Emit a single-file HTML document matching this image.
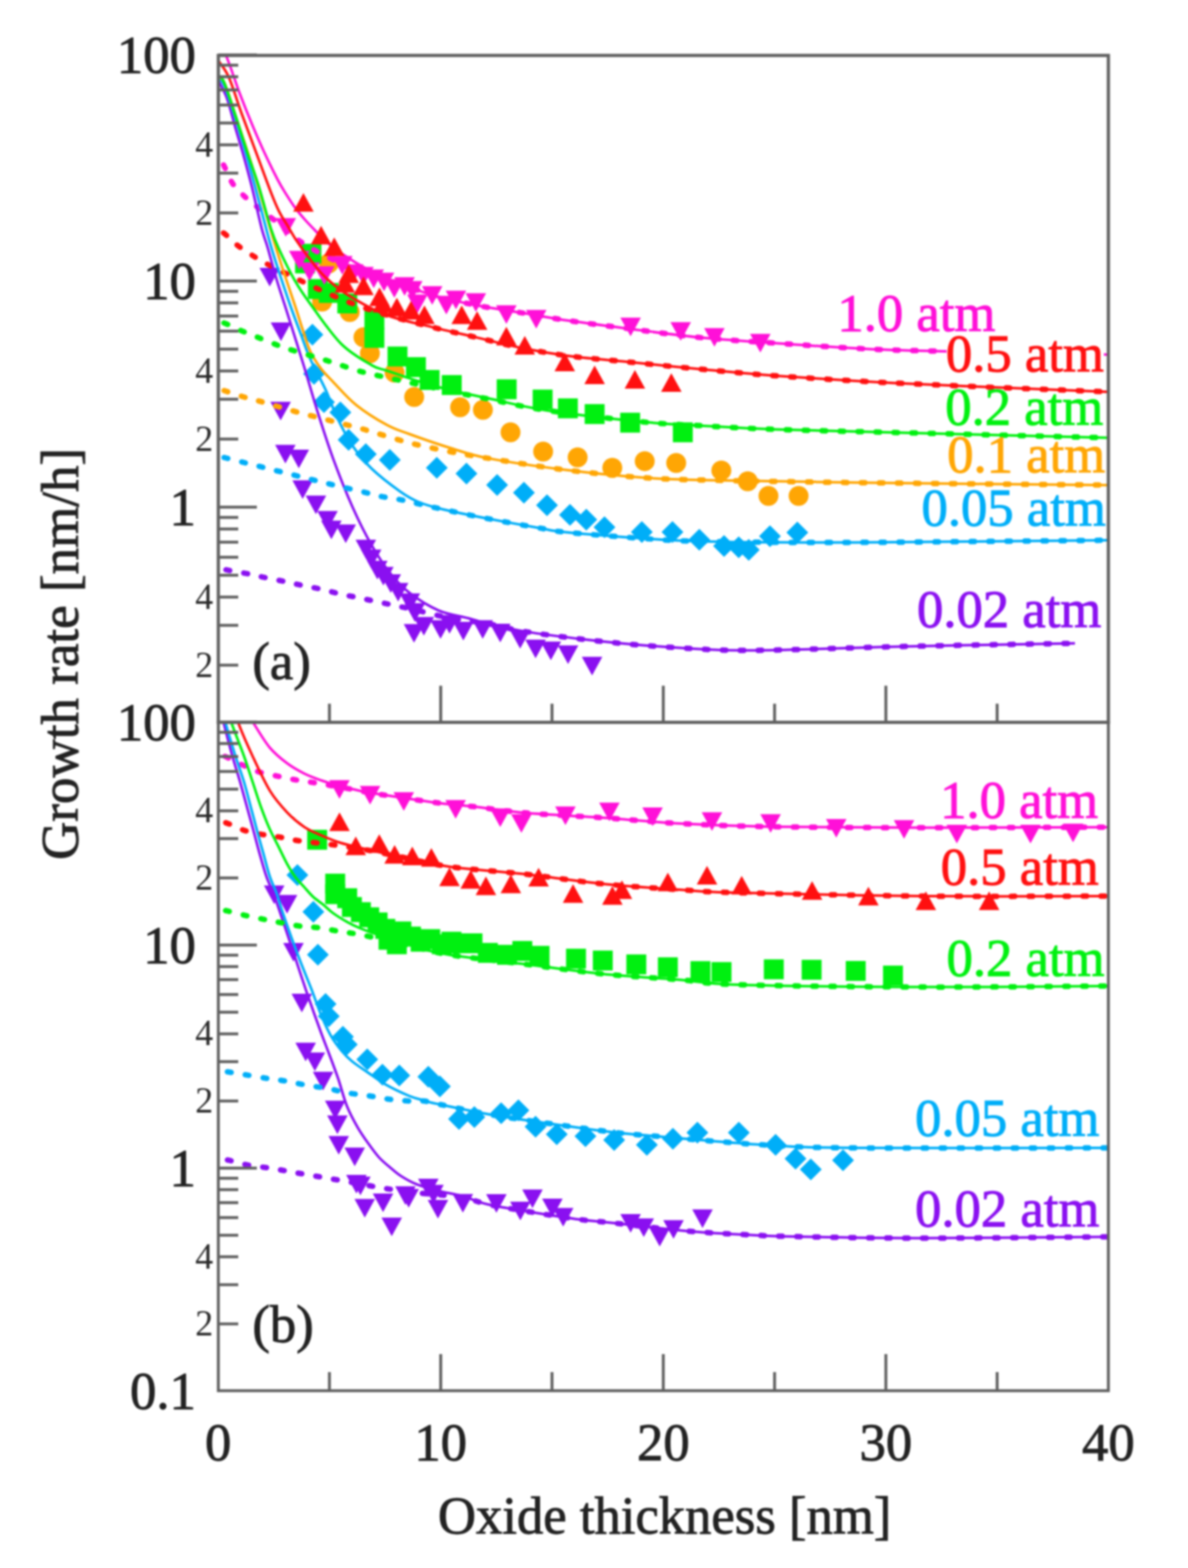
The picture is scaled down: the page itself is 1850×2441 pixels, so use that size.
<!DOCTYPE html>
<html><head><meta charset="utf-8"><title>Growth rate vs oxide thickness</title>
<style>html,body{margin:0;padding:0;background:#fff;width:1850px;height:2441px;overflow:hidden}svg{display:block;filter:blur(1.4px)}</style>
</head><body><svg width="1850" height="2441" viewBox="0 0 1850 2441"><rect width="100%" height="100%" fill="#fff"/><defs><clipPath id="ct"><rect x="340" y="86.3" width="1386" height="1038.2"/></clipPath><clipPath id="cb"><rect x="340" y="1124.5" width="1386" height="1040.5"/></clipPath></defs><g clip-path="url(#ct)"><path d="M404.0,417.0h32l-16,29z" fill="#8a10f0"/><path d="M421.5,502.0h32l-16,29z" fill="#8a10f0"/><path d="M421.0,625.5h32l-16,29z" fill="#8a10f0"/><path d="M428.4,692.5h32l-16,29z" fill="#8a10f0"/><path d="M449.3,700.1h32l-16,29z" fill="#8a10f0"/><path d="M455.3,747.8h32l-16,29z" fill="#8a10f0"/><path d="M476.0,771.5h32l-16,29z" fill="#8a10f0"/><path d="M494.0,795.5h32l-16,29z" fill="#8a10f0"/><path d="M500.0,810.5h32l-16,29z" fill="#8a10f0"/><path d="M522.4,816.5h32l-16,29z" fill="#8a10f0"/><path d="M553.7,840.3h32l-16,29z" fill="#8a10f0"/><path d="M562.0,855.5h32l-16,29z" fill="#8a10f0"/><path d="M571.6,873.1h32l-16,29z" fill="#8a10f0"/><path d="M581.0,882.5h32l-16,29z" fill="#8a10f0"/><path d="M592.5,894.0h32l-16,29z" fill="#8a10f0"/><path d="M604.0,907.5h32l-16,29z" fill="#8a10f0"/><path d="M622.3,923.8h32l-16,29z" fill="#8a10f0"/><path d="M630.0,939.1h32l-16,29z" fill="#8a10f0"/><path d="M628.7,971.5h32l-16,29z" fill="#8a10f0"/><path d="M644.0,960.5h32l-16,29z" fill="#8a10f0"/><path d="M670.0,965.5h32l-16,29z" fill="#8a10f0"/><path d="M684.0,957.5h32l-16,29z" fill="#8a10f0"/><path d="M705.5,968.0h32l-16,29z" fill="#8a10f0"/><path d="M735.7,965.5h32l-16,29z" fill="#8a10f0"/><path d="M763.0,971.0h32l-16,29z" fill="#8a10f0"/><path d="M794.0,980.8h32l-16,29z" fill="#8a10f0"/><path d="M818.0,995.8h32l-16,29z" fill="#8a10f0"/><path d="M841.8,998.7h32l-16,29z" fill="#8a10f0"/><path d="M868.6,1004.7h32l-16,29z" fill="#8a10f0"/><path d="M906.0,1022.6h32l-16,29z" fill="#8a10f0"/><path d="M486.5,504.0l17,17l-17,17l-17,-17z" fill="#00aef8"/><path d="M489.0,565.0l17,17l-17,17l-17,-17z" fill="#00aef8"/><path d="M504.5,609.0l17,17l-17,17l-17,-17z" fill="#00aef8"/><path d="M530.0,625.0l17,17l-17,17l-17,-17z" fill="#00aef8"/><path d="M542.9,667.7l17,17l-17,17l-17,-17z" fill="#00aef8"/><path d="M569.7,690.0l17,17l-17,17l-17,-17z" fill="#00aef8"/><path d="M607.0,699.0l17,17l-17,17l-17,-17z" fill="#00aef8"/><path d="M680.2,711.2l17,17l-17,17l-17,-17z" fill="#00aef8"/><path d="M726.4,720.2l17,17l-17,17l-17,-17z" fill="#00aef8"/><path d="M774.1,738.0l17,17l-17,17l-17,-17z" fill="#00aef8"/><path d="M815.9,750.0l17,17l-17,17l-17,-17z" fill="#00aef8"/><path d="M851.8,769.5l17,17l-17,17l-17,-17z" fill="#00aef8"/><path d="M887.6,784.4l17,17l-17,17l-17,-17z" fill="#00aef8"/><path d="M913.0,791.9l17,17l-17,17l-17,-17z" fill="#00aef8"/><path d="M941.3,803.8l17,17l-17,17l-17,-17z" fill="#00aef8"/><path d="M999.5,811.3l17,17l-17,17l-17,-17z" fill="#00aef8"/><path d="M1047.2,811.3l17,17l-17,17l-17,-17z" fill="#00aef8"/><path d="M1089.0,823.2l17,17l-17,17l-17,-17z" fill="#00aef8"/><path d="M1127.5,833.0l17,17l-17,17l-17,-17z" fill="#00aef8"/><path d="M1150.4,835.0l17,17l-17,17l-17,-17z" fill="#00aef8"/><path d="M1166.0,839.0l17,17l-17,17l-17,-17z" fill="#00aef8"/><path d="M1199.0,817.7l17,17l-17,17l-17,-17z" fill="#00aef8"/><path d="M1241.6,811.9l17,17l-17,17l-17,-17z" fill="#00aef8"/><circle cx="512.0" cy="410.0" r="15.5" fill="#ffa604"/><circle cx="501.6" cy="469.6" r="15.5" fill="#ffa604"/><circle cx="544.6" cy="485.7" r="15.5" fill="#ffa604"/><circle cx="566.0" cy="525.0" r="15.5" fill="#ffa604"/><circle cx="576.0" cy="550.0" r="15.5" fill="#ffa604"/><circle cx="614.5" cy="580.0" r="15.5" fill="#ffa604"/><circle cx="645.0" cy="618.0" r="15.5" fill="#ffa604"/><circle cx="716.5" cy="634.0" r="15.5" fill="#ffa604"/><circle cx="752.0" cy="638.0" r="15.5" fill="#ffa604"/><circle cx="795.0" cy="673.0" r="15.5" fill="#ffa604"/><circle cx="845.8" cy="703.0" r="15.5" fill="#ffa604"/><circle cx="899.5" cy="712.0" r="15.5" fill="#ffa604"/><circle cx="953.5" cy="728.3" r="15.5" fill="#ffa604"/><circle cx="1004.0" cy="717.9" r="15.5" fill="#ffa604"/><circle cx="1053.0" cy="720.8" r="15.5" fill="#ffa604"/><circle cx="1123.3" cy="732.4" r="15.5" fill="#ffa604"/><circle cx="1164.4" cy="749.2" r="15.5" fill="#ffa604"/><circle cx="1196.7" cy="772.0" r="15.5" fill="#ffa604"/><circle cx="1243.6" cy="772.0" r="15.5" fill="#ffa604"/><rect x="459.5" y="394.5" width="31" height="31" fill="#00f010"/><rect x="469.5" y="379.5" width="31" height="31" fill="#00f010"/><rect x="479.5" y="434.5" width="31" height="31" fill="#00f010"/><rect x="496.5" y="440.5" width="31" height="31" fill="#00f010"/><rect x="525.3" y="456.9" width="31" height="31" fill="#00f010"/><rect x="567.5" y="481.5" width="31" height="31" fill="#00f010"/><rect x="567.5" y="510.5" width="31" height="31" fill="#00f010"/><rect x="603.5" y="539.5" width="31" height="31" fill="#00f010"/><rect x="632.2" y="556.0" width="31" height="31" fill="#00f010"/><rect x="653.5" y="576.0" width="31" height="31" fill="#00f010"/><rect x="688.0" y="583.9" width="31" height="31" fill="#00f010"/><rect x="773.5" y="590.5" width="31" height="31" fill="#00f010"/><rect x="829.5" y="606.5" width="31" height="31" fill="#00f010"/><rect x="868.8" y="620.2" width="31" height="31" fill="#00f010"/><rect x="910.5" y="629.1" width="31" height="31" fill="#00f010"/><rect x="965.8" y="642.5" width="31" height="31" fill="#00f010"/><rect x="1047.8" y="657.5" width="31" height="31" fill="#00f010"/><path d="M429.0,339.5h32l-16,29z" fill="#ff10d8"/><path d="M450.0,390.5h32l-16,29z" fill="#ff10d8"/><path d="M466.0,408.5h32l-16,29z" fill="#ff10d8"/><path d="M489.0,414.5h32l-16,29z" fill="#ff10d8"/><path d="M517.0,398.5h32l-16,29z" fill="#ff10d8"/><path d="M534.0,411.5h32l-16,29z" fill="#ff10d8"/><path d="M550.0,415.5h32l-16,29z" fill="#ff10d8"/><path d="M566.0,419.5h32l-16,29z" fill="#ff10d8"/><path d="M582.0,424.5h32l-16,29z" fill="#ff10d8"/><path d="M598.0,434.5h32l-16,29z" fill="#ff10d8"/><path d="M614.0,431.5h32l-16,29z" fill="#ff10d8"/><path d="M626.0,437.5h32l-16,29z" fill="#ff10d8"/><path d="M634.0,458.5h32l-16,29z" fill="#ff10d8"/><path d="M657.0,445.5h32l-16,29z" fill="#ff10d8"/><path d="M679.0,460.5h32l-16,29z" fill="#ff10d8"/><path d="M694.0,452.5h32l-16,29z" fill="#ff10d8"/><path d="M725.0,456.5h32l-16,29z" fill="#ff10d8"/><path d="M772.5,475.3h32l-16,29z" fill="#ff10d8"/><path d="M819.0,482.5h32l-16,29z" fill="#ff10d8"/><path d="M966.0,494.5h32l-16,29z" fill="#ff10d8"/><path d="M1044.0,501.5h32l-16,29z" fill="#ff10d8"/><path d="M1096.5,510.8h32l-16,29z" fill="#ff10d8"/><path d="M1168.0,519.7h32l-16,29z" fill="#ff10d8"/><path d="M338.0,62.0 C340.6,66.7 347.5,76.0 353.4,90.0 C359.3,104.0 366.8,128.3 373.5,146.0 C380.2,163.7 387.2,181.0 393.5,196.0 C399.8,211.0 404.6,222.2 411.0,236.0 C417.4,249.8 426.2,267.8 432.0,279.0 C437.8,290.2 441.3,295.5 446.0,303.0 C450.7,310.5 455.3,317.7 460.0,324.0 C464.7,330.3 469.0,335.3 474.0,341.0 C479.0,346.7 484.0,351.8 490.0,358.0 C496.0,364.2 501.7,371.0 510.0,378.0 C518.3,385.0 530.0,393.3 540.0,400.0 C550.0,406.7 560.0,412.6 570.0,418.0 C580.0,423.4 583.1,425.7 600.0,432.5 C616.9,439.3 647.7,451.6 671.6,458.8 C695.5,466.0 719.3,470.7 743.2,475.5 C767.1,480.3 790.9,483.4 814.8,487.4 C838.7,491.4 860.6,495.5 886.4,499.3 C912.1,503.1 935.6,506.1 969.3,510.4 C1003.0,514.7 1048.9,521.3 1088.7,525.3 C1128.5,529.3 1164.5,531.2 1208.0,534.2 C1251.5,537.2 1305.5,541.1 1350.0,543.2 C1394.5,545.3 1412.7,545.5 1475.0,547.0 C1537.3,548.5 1682.5,551.2 1724.0,552.0" fill="none" stroke="#ff10d8" stroke-width="4.0" stroke-linejoin="round"/><path d="M340.0,242.0 C341.6,244.9 345.9,252.3 349.6,259.6 C353.4,267.0 357.4,278.5 362.5,286.1 C367.6,293.7 374.5,299.8 380.4,305.4 C386.2,311.0 389.3,313.2 397.6,319.8 C405.9,326.4 419.8,336.6 430.0,345.0 C440.2,353.4 447.3,361.7 459.0,370.0 C470.7,378.3 484.8,387.0 500.0,395.0 C515.2,403.0 533.3,411.8 550.0,418.0 C566.7,424.2 579.7,425.7 600.0,432.5 C620.3,439.3 647.7,451.6 671.6,458.8 C695.5,466.0 719.3,470.7 743.2,475.5 C767.1,480.3 790.9,483.4 814.8,487.4 C838.7,491.4 860.6,495.5 886.4,499.3 C912.1,503.1 935.6,506.1 969.3,510.4 C1003.0,514.7 1048.9,521.3 1088.7,525.3 C1128.5,529.3 1164.5,531.2 1208.0,534.2 C1251.5,537.2 1305.5,541.1 1350.0,543.2 C1394.5,545.3 1412.7,545.5 1475.0,547.0 C1537.3,548.5 1682.5,551.2 1724.0,552.0" fill="none" stroke="#ff10d8" stroke-width="8.5" stroke-dasharray="6 22" stroke-dashoffset="-17.0" stroke-linecap="round" stroke-linejoin="round"/><path d="M456.5,329.5h32l-16,-29z" fill="#ff1010"/><path d="M484.0,380.5h32l-16,-29z" fill="#ff1010"/><path d="M504.5,398.5h32l-16,-29z" fill="#ff1010"/><path d="M521.0,455.5h32l-16,-29z" fill="#ff1010"/><path d="M527.0,440.5h32l-16,-29z" fill="#ff1010"/><path d="M550.0,459.5h32l-16,-29z" fill="#ff1010"/><path d="M575.0,476.5h32l-16,-29z" fill="#ff1010"/><path d="M580.0,486.5h32l-16,-29z" fill="#ff1010"/><path d="M602.0,492.5h32l-16,-29z" fill="#ff1010"/><path d="M624.0,497.5h32l-16,-29z" fill="#ff1010"/><path d="M645.0,504.5h32l-16,-29z" fill="#ff1010"/><path d="M703.0,504.5h32l-16,-29z" fill="#ff1010"/><path d="M727.0,513.5h32l-16,-29z" fill="#ff1010"/><path d="M772.5,537.7h32l-16,-29z" fill="#ff1010"/><path d="M801.2,552.0h32l-16,-29z" fill="#ff1010"/><path d="M863.5,578.0h32l-16,-29z" fill="#ff1010"/><path d="M910.0,598.0h32l-16,-29z" fill="#ff1010"/><path d="M972.7,605.0h32l-16,-29z" fill="#ff1010"/><path d="M1029.4,609.9h32l-16,-29z" fill="#ff1010"/><path d="M338.0,92.0 C341.0,96.6 349.7,105.5 356.0,119.5 C362.3,133.5 368.9,156.6 376.0,176.0 C383.1,195.4 390.6,215.2 398.3,236.0 C406.1,256.8 416.4,285.3 422.5,301.0 C428.6,316.7 430.9,321.8 435.0,330.0 C439.1,338.2 442.5,342.5 447.0,350.0 C451.5,357.5 456.5,366.7 462.0,375.0 C467.5,383.3 472.8,390.8 480.0,400.0 C487.2,409.2 495.0,420.3 505.0,430.0 C515.0,439.7 524.2,448.0 540.0,458.0 C555.8,468.0 578.1,481.3 600.0,489.8 C621.9,498.3 647.7,502.9 671.6,508.9 C695.5,514.9 719.3,520.0 743.2,525.6 C767.1,531.2 790.9,537.5 814.8,542.3 C838.7,547.1 860.6,550.8 886.4,554.2 C912.1,557.6 935.6,559.2 969.3,562.6 C1003.0,566.0 1048.9,570.8 1088.7,574.5 C1128.5,578.2 1164.5,581.8 1208.0,585.0 C1251.5,588.2 1301.3,591.3 1350.0,594.0 C1398.7,596.7 1437.7,598.3 1500.0,601.0 C1562.3,603.7 1686.7,608.5 1724.0,610.0" fill="none" stroke="#ff1010" stroke-width="4.0" stroke-linejoin="round"/><path d="M340.0,358.0 C341.8,359.1 345.9,360.8 350.7,364.6 C355.5,368.4 362.1,375.8 368.6,381.0 C375.2,386.2 382.8,391.0 390.0,395.6 C397.2,400.2 401.6,403.3 411.6,408.7 C421.6,414.1 435.3,420.8 450.0,428.0 C464.7,435.2 483.3,444.5 500.0,452.0 C516.7,459.5 533.3,466.7 550.0,473.0 C566.7,479.3 579.7,483.8 600.0,489.8 C620.3,495.8 647.7,502.9 671.6,508.9 C695.5,514.9 719.3,520.0 743.2,525.6 C767.1,531.2 790.9,537.5 814.8,542.3 C838.7,547.1 860.6,550.8 886.4,554.2 C912.1,557.6 935.6,559.2 969.3,562.6 C1003.0,566.0 1048.9,570.8 1088.7,574.5 C1128.5,578.2 1164.5,581.8 1208.0,585.0 C1251.5,588.2 1301.3,591.3 1350.0,594.0 C1398.7,596.7 1437.7,598.3 1500.0,601.0 C1562.3,603.7 1686.7,608.5 1724.0,610.0" fill="none" stroke="#ff1010" stroke-width="8.5" stroke-dasharray="6 22" stroke-dashoffset="-9.6" stroke-linecap="round" stroke-linejoin="round"/><path d="M338.0,122.0 C340.6,127.2 348.6,140.0 353.4,153.0 C358.2,166.0 362.8,186.2 366.8,200.0 C370.8,213.8 373.3,221.0 377.5,236.0 C381.7,251.0 387.0,270.0 392.0,290.0 C397.0,310.0 403.5,340.3 407.6,356.0 C411.7,371.7 412.5,370.7 416.4,384.0 C420.3,397.3 425.8,418.8 431.0,436.0 C436.2,453.2 440.3,464.9 447.4,487.4 C454.5,509.9 465.7,545.1 473.6,571.0 C481.5,596.9 487.4,618.6 495.0,642.5 C502.6,666.4 510.0,690.2 519.0,714.6 C528.0,739.0 538.8,766.6 548.8,789.0 C558.8,811.4 568.8,831.4 578.7,848.8 C588.7,866.2 598.6,881.2 608.5,893.6 C618.4,906.0 625.9,914.0 638.3,923.4 C650.7,932.8 667.8,943.8 683.0,950.3 C698.2,956.8 716.7,959.0 729.5,962.5 C742.3,966.0 745.1,967.5 760.0,971.0 C774.9,974.5 794.2,979.4 819.0,983.4 C843.8,987.4 878.7,991.8 908.5,995.3 C938.3,998.8 966.1,1001.7 998.0,1004.3 C1029.9,1006.9 1073.0,1009.6 1100.0,1011.0 C1127.0,1012.4 1135.0,1012.5 1160.0,1012.5 C1185.0,1012.5 1214.8,1011.9 1250.0,1011.0 C1285.2,1010.1 1329.8,1008.4 1371.5,1007.3 C1413.2,1006.2 1449.6,1005.5 1500.0,1004.5 C1550.4,1003.5 1645.0,1002.0 1674.0,1001.5" fill="none" stroke="#8a10f0" stroke-width="4.0" stroke-linejoin="round"/><path d="M340.0,884.0 C342.5,884.6 347.1,886.0 355.0,887.6 C362.9,889.2 377.8,891.6 387.7,893.6 C397.6,895.6 405.2,897.5 414.6,899.5 C424.1,901.5 434.9,903.5 444.4,905.5 C453.8,907.5 461.9,909.5 471.3,911.5 C480.7,913.5 491.1,915.1 501.0,917.4 C510.9,919.6 521.0,922.7 531.0,925.0 C541.0,927.3 551.4,929.0 560.8,931.0 C570.2,933.0 574.4,934.0 587.6,936.8 C600.8,939.6 621.3,943.8 640.0,948.0 C658.7,952.2 680.0,958.2 700.0,962.0 C720.0,965.8 740.2,967.4 760.0,971.0 C779.8,974.6 794.2,979.4 819.0,983.4 C843.8,987.4 878.7,991.8 908.5,995.3 C938.3,998.8 966.1,1001.7 998.0,1004.3 C1029.9,1006.9 1073.0,1009.6 1100.0,1011.0 C1127.0,1012.4 1135.0,1012.5 1160.0,1012.5 C1185.0,1012.5 1214.8,1011.9 1250.0,1011.0 C1285.2,1010.1 1329.8,1008.4 1371.5,1007.3 C1413.2,1006.2 1449.6,1005.5 1500.0,1004.5 C1550.4,1003.5 1645.0,1002.0 1674.0,1001.5" fill="none" stroke="#8a10f0" stroke-width="8.5" stroke-dasharray="6 22" stroke-dashoffset="-12.4" stroke-linecap="round" stroke-linejoin="round"/><path d="M338.0,120.0 C340.0,122.5 345.0,123.3 350.0,135.0 C355.0,146.7 362.0,170.8 368.0,190.0 C374.0,209.2 380.0,229.0 386.0,250.0 C392.0,271.0 398.2,294.3 404.0,316.0 C409.8,337.7 415.7,361.3 421.0,380.0 C426.3,398.7 430.8,412.1 436.0,428.0 C441.2,443.9 446.7,460.3 452.0,475.5 C457.3,490.7 462.8,505.1 468.0,519.0 C473.2,532.9 476.7,544.4 483.2,559.0 C489.7,573.6 500.0,591.5 507.0,606.7 C514.0,621.9 518.0,635.5 525.0,650.0 C532.0,664.5 539.8,680.5 548.8,693.7 C557.8,707.0 566.3,717.6 578.7,729.5 C591.1,741.4 611.0,756.5 623.4,765.3 C635.8,774.0 641.9,777.4 653.0,782.0 C664.1,786.6 672.5,788.8 690.0,793.0 C707.5,797.2 732.7,802.2 757.7,807.0 C782.7,811.8 819.8,818.5 840.0,822.0 C860.2,825.5 852.4,825.6 878.7,828.3 C905.0,831.0 961.1,835.5 998.0,838.0 C1034.9,840.5 1044.2,841.9 1100.0,843.0 C1155.8,844.1 1228.6,844.7 1332.7,844.4 C1436.8,844.1 1659.2,841.6 1724.5,841.0" fill="none" stroke="#00aef8" stroke-width="4.0" stroke-linejoin="round"/><path d="M340.0,710.0 C342.0,710.5 345.0,711.2 352.0,713.0 C359.0,714.8 371.9,718.0 381.8,720.5 C391.7,723.0 401.7,725.5 411.6,728.0 C421.5,730.5 431.4,733.0 441.4,735.5 C451.3,738.0 461.4,740.5 471.3,743.0 C481.2,745.5 491.1,747.9 501.0,750.4 C510.9,752.9 520.5,755.3 531.0,757.8 C541.5,760.3 553.3,762.8 563.7,765.3 C574.1,767.8 583.7,770.7 593.6,772.8 C603.5,774.9 613.5,775.8 623.4,777.8 C633.3,779.8 642.1,782.2 653.2,784.7 C664.3,787.2 672.6,789.3 690.0,793.0 C707.4,796.7 732.7,802.2 757.7,807.0 C782.7,811.8 819.8,818.5 840.0,822.0 C860.2,825.5 852.4,825.6 878.7,828.3 C905.0,831.0 961.1,835.5 998.0,838.0 C1034.9,840.5 1044.2,841.9 1100.0,843.0 C1155.8,844.1 1228.6,844.7 1332.7,844.4 C1436.8,844.1 1659.2,841.6 1724.5,841.0" fill="none" stroke="#00aef8" stroke-width="8.5" stroke-dasharray="6 22" stroke-dashoffset="-9.4" stroke-linecap="round" stroke-linejoin="round"/><path d="M338.0,118.0 C340.0,120.0 344.7,118.0 350.0,130.0 C355.3,142.0 363.3,170.0 370.0,190.0 C376.7,210.0 383.3,228.7 390.0,250.0 C396.7,271.3 403.7,296.3 410.0,318.0 C416.3,339.7 422.3,361.3 428.0,380.0 C433.7,398.7 438.8,414.1 444.0,430.0 C449.2,445.9 454.6,461.3 459.3,475.5 C464.0,489.7 468.0,503.1 472.0,515.0 C476.0,526.9 478.5,537.2 483.2,547.0 C487.9,556.8 494.0,566.0 500.0,574.0 C506.0,582.0 509.9,585.4 519.0,594.8 C528.1,604.2 540.9,619.5 554.8,630.6 C568.7,641.7 588.6,654.0 602.5,661.6 C616.4,669.2 622.0,670.1 638.3,676.0 C654.5,681.9 679.7,690.8 700.0,697.0 C720.3,703.2 730.2,707.7 760.0,713.4 C789.8,719.1 839.0,726.3 878.7,731.3 C918.4,736.3 961.1,740.6 998.0,743.3 C1034.9,746.0 1044.2,746.1 1100.0,747.4 C1155.8,748.7 1228.6,750.0 1332.7,751.3 C1436.8,752.6 1659.2,754.6 1724.5,755.2" fill="none" stroke="#ffa604" stroke-width="4.0" stroke-linejoin="round"/><path d="M340.0,605.0 C342.0,605.7 345.7,606.9 352.0,609.0 C358.3,611.1 369.3,614.9 378.0,617.5 C386.7,620.1 389.6,620.4 404.4,624.6 C419.1,628.8 441.4,635.7 466.5,642.5 C491.6,649.3 535.3,660.0 554.8,665.2 C574.3,670.4 569.2,669.4 583.4,673.5 C597.6,677.6 620.6,685.1 640.0,690.0 C659.4,694.9 680.0,699.1 700.0,703.0 C720.0,706.9 730.2,708.7 760.0,713.4 C789.8,718.1 839.0,726.3 878.7,731.3 C918.4,736.3 961.1,740.6 998.0,743.3 C1034.9,746.0 1044.2,746.1 1100.0,747.4 C1155.8,748.7 1228.6,750.0 1332.7,751.3 C1436.8,752.6 1659.2,754.6 1724.5,755.2" fill="none" stroke="#ffa604" stroke-width="8.5" stroke-dasharray="6 22" stroke-dashoffset="-9.6" stroke-linecap="round" stroke-linejoin="round"/><path d="M338.0,118.0 C339.7,119.3 343.2,115.7 348.0,126.0 C352.8,136.3 360.7,161.7 366.8,180.0 C372.9,198.3 378.7,217.7 384.7,236.0 C390.7,254.3 396.8,270.0 403.0,290.0 C409.2,310.0 416.5,339.3 421.9,356.0 C427.3,372.7 429.3,376.5 435.5,390.0 C441.7,403.5 451.4,423.2 459.3,437.0 C467.2,450.8 471.2,456.7 483.2,473.0 C495.1,489.3 515.1,519.1 531.0,535.0 C546.9,550.9 566.8,561.5 578.7,568.5 C590.6,575.5 590.6,572.9 602.5,577.0 C614.4,581.1 633.8,588.0 650.0,593.0 C666.2,598.0 681.7,602.5 700.0,607.0 C718.3,611.5 735.0,614.7 760.0,620.0 C785.0,625.3 810.2,632.6 850.0,638.7 C889.8,644.8 959.2,652.6 999.0,656.6 C1038.8,660.6 1053.9,660.5 1088.7,662.5 C1123.5,664.5 1154.5,666.6 1208.0,668.5 C1261.5,670.4 1323.9,671.5 1410.0,673.7 C1496.1,675.9 1672.1,680.2 1724.5,681.5" fill="none" stroke="#00f010" stroke-width="4.0" stroke-linejoin="round"/><path d="M340.0,500.0 C342.0,500.7 346.0,501.5 352.0,504.0 C358.0,506.5 367.9,511.4 375.8,514.8 C383.8,518.2 391.8,521.2 399.7,524.4 C407.6,527.6 415.1,530.8 423.5,534.0 C431.9,537.2 436.3,539.2 449.8,543.5 C463.3,547.8 491.2,555.8 504.7,560.0 C518.2,564.2 522.3,565.7 531.0,568.5 C539.7,571.3 547.9,574.4 557.0,577.0 C566.1,579.6 572.0,580.8 585.8,584.0 C599.6,587.2 621.0,591.8 640.0,596.0 C659.0,600.2 680.0,604.8 700.0,609.0 C720.0,613.2 735.0,616.0 760.0,621.0 C785.0,626.0 810.2,632.8 850.0,638.7 C889.8,644.6 959.2,652.6 999.0,656.6 C1038.8,660.6 1053.9,660.5 1088.7,662.5 C1123.5,664.5 1154.5,666.6 1208.0,668.5 C1261.5,670.4 1323.9,671.5 1410.0,673.7 C1496.1,675.9 1672.1,680.2 1724.5,681.5" fill="none" stroke="#00f010" stroke-width="8.5" stroke-dasharray="6 22" stroke-dashoffset="-9.6" stroke-linecap="round" stroke-linejoin="round"/></g><g clip-path="url(#cb)"><path d="M411.0,1378.5h32l-16,29z" fill="#8a10f0"/><path d="M431.0,1393.2h32l-16,29z" fill="#8a10f0"/><path d="M441.0,1468.1h32l-16,29z" fill="#8a10f0"/><path d="M454.0,1546.9h32l-16,29z" fill="#8a10f0"/><path d="M460.0,1623.3h32l-16,29z" fill="#8a10f0"/><path d="M474.3,1638.5h32l-16,29z" fill="#8a10f0"/><path d="M487.2,1668.5h32l-16,29z" fill="#8a10f0"/><path d="M506.0,1713.5h32l-16,29z" fill="#8a10f0"/><path d="M509.4,1736.5h32l-16,29z" fill="#8a10f0"/><path d="M511.5,1768.5h32l-16,29z" fill="#8a10f0"/><path d="M536.4,1786.5h32l-16,29z" fill="#8a10f0"/><path d="M539.0,1828.9h32l-16,29z" fill="#8a10f0"/><path d="M545.2,1831.7h32l-16,29z" fill="#8a10f0"/><path d="M552.0,1866.5h32l-16,29z" fill="#8a10f0"/><path d="M580.5,1858.0h32l-16,29z" fill="#8a10f0"/><path d="M594.0,1895.5h32l-16,29z" fill="#8a10f0"/><path d="M615.3,1846.8h32l-16,29z" fill="#8a10f0"/><path d="M620.4,1851.0h32l-16,29z" fill="#8a10f0"/><path d="M651.0,1834.9h32l-16,29z" fill="#8a10f0"/><path d="M659.0,1844.5h32l-16,29z" fill="#8a10f0"/><path d="M666.0,1868.0h32l-16,29z" fill="#8a10f0"/><path d="M704.8,1858.7h32l-16,29z" fill="#8a10f0"/><path d="M757.0,1858.9h32l-16,29z" fill="#8a10f0"/><path d="M794.3,1870.7h32l-16,29z" fill="#8a10f0"/><path d="M813.2,1851.8h32l-16,29z" fill="#8a10f0"/><path d="M844.2,1866.1h32l-16,29z" fill="#8a10f0"/><path d="M861.0,1880.5h32l-16,29z" fill="#8a10f0"/><path d="M966.0,1889.9h32l-16,29z" fill="#8a10f0"/><path d="M986.5,1896.7h32l-16,29z" fill="#8a10f0"/><path d="M1011.3,1911.5h32l-16,29z" fill="#8a10f0"/><path d="M1032.8,1899.5h32l-16,29z" fill="#8a10f0"/><path d="M1078.0,1882.8h32l-16,29z" fill="#8a10f0"/><path d="M463.1,1345.2l17,17l-17,17l-17,-17z" fill="#00aef8"/><path d="M488.0,1402.4l17,17l-17,17l-17,-17z" fill="#00aef8"/><path d="M495.0,1469.2l17,17l-17,17l-17,-17z" fill="#00aef8"/><path d="M507.0,1546.0l17,17l-17,17l-17,-17z" fill="#00aef8"/><path d="M512.0,1565.0l17,17l-17,17l-17,-17z" fill="#00aef8"/><path d="M534.0,1597.0l17,17l-17,17l-17,-17z" fill="#00aef8"/><path d="M540.0,1609.0l17,17l-17,17l-17,-17z" fill="#00aef8"/><path d="M571.9,1632.3l17,17l-17,17l-17,-17z" fill="#00aef8"/><path d="M595.5,1655.9l17,17l-17,17l-17,-17z" fill="#00aef8"/><path d="M621.8,1657.2l17,17l-17,17l-17,-17z" fill="#00aef8"/><path d="M667.0,1659.3l17,17l-17,17l-17,-17z" fill="#00aef8"/><path d="M685.0,1674.3l17,17l-17,17l-17,-17z" fill="#00aef8"/><path d="M714.8,1725.0l17,17l-17,17l-17,-17z" fill="#00aef8"/><path d="M738.7,1722.0l17,17l-17,17l-17,-17z" fill="#00aef8"/><path d="M780.4,1716.0l17,17l-17,17l-17,-17z" fill="#00aef8"/><path d="M807.3,1711.6l17,17l-17,17l-17,-17z" fill="#00aef8"/><path d="M834.0,1737.0l17,17l-17,17l-17,-17z" fill="#00aef8"/><path d="M867.0,1748.8l17,17l-17,17l-17,-17z" fill="#00aef8"/><path d="M911.7,1751.8l17,17l-17,17l-17,-17z" fill="#00aef8"/><path d="M956.4,1757.8l17,17l-17,17l-17,-17z" fill="#00aef8"/><path d="M1007.3,1765.3l17,17l-17,17l-17,-17z" fill="#00aef8"/><path d="M1047.9,1755.7l17,17l-17,17l-17,-17z" fill="#00aef8"/><path d="M1086.0,1746.2l17,17l-17,17l-17,-17z" fill="#00aef8"/><path d="M1150.5,1746.2l17,17l-17,17l-17,-17z" fill="#00aef8"/><path d="M1207.8,1765.3l17,17l-17,17l-17,-17z" fill="#00aef8"/><path d="M1238.8,1786.8l17,17l-17,17l-17,-17z" fill="#00aef8"/><path d="M1262.6,1803.5l17,17l-17,17l-17,-17z" fill="#00aef8"/><path d="M1312.8,1789.2l17,17l-17,17l-17,-17z" fill="#00aef8"/><rect x="478.4" y="1291.8" width="31" height="31" fill="#00f010"/><rect x="506.5" y="1360.1" width="31" height="31" fill="#00f010"/><rect x="506.5" y="1376.5" width="31" height="31" fill="#00f010"/><rect x="525.2" y="1382.8" width="31" height="31" fill="#00f010"/><rect x="532.5" y="1396.5" width="31" height="31" fill="#00f010"/><rect x="546.5" y="1404.5" width="31" height="31" fill="#00f010"/><rect x="559.5" y="1412.5" width="31" height="31" fill="#00f010"/><rect x="572.5" y="1420.5" width="31" height="31" fill="#00f010"/><rect x="584.5" y="1430.5" width="31" height="31" fill="#00f010"/><rect x="589.5" y="1447.5" width="31" height="31" fill="#00f010"/><rect x="602.5" y="1454.5" width="31" height="31" fill="#00f010"/><rect x="609.5" y="1434.5" width="31" height="31" fill="#00f010"/><rect x="624.5" y="1442.5" width="31" height="31" fill="#00f010"/><rect x="639.5" y="1450.5" width="31" height="31" fill="#00f010"/><rect x="654.5" y="1446.5" width="31" height="31" fill="#00f010"/><rect x="672.5" y="1454.5" width="31" height="31" fill="#00f010"/><rect x="687.5" y="1450.5" width="31" height="31" fill="#00f010"/><rect x="702.5" y="1453.0" width="31" height="31" fill="#00f010"/><rect x="720.3" y="1453.0" width="31" height="31" fill="#00f010"/><rect x="744.2" y="1467.9" width="31" height="31" fill="#00f010"/><rect x="774.0" y="1470.9" width="31" height="31" fill="#00f010"/><rect x="797.9" y="1464.9" width="31" height="31" fill="#00f010"/><rect x="824.7" y="1472.5" width="31" height="31" fill="#00f010"/><rect x="881.5" y="1476.9" width="31" height="31" fill="#00f010"/><rect x="923.2" y="1479.8" width="31" height="31" fill="#00f010"/><rect x="975.4" y="1485.8" width="31" height="31" fill="#00f010"/><rect x="1024.5" y="1490.3" width="31" height="31" fill="#00f010"/><rect x="1075.3" y="1496.3" width="31" height="31" fill="#00f010"/><rect x="1108.1" y="1497.7" width="31" height="31" fill="#00f010"/><rect x="1189.5" y="1493.5" width="31" height="31" fill="#00f010"/><rect x="1248.4" y="1494.2" width="31" height="31" fill="#00f010"/><rect x="1317.1" y="1496.0" width="31" height="31" fill="#00f010"/><rect x="1375.1" y="1503.2" width="31" height="31" fill="#00f010"/><path d="M512.6,1214.5h32l-16,29z" fill="#ff10d8"/><path d="M560.3,1223.6h32l-16,29z" fill="#ff10d8"/><path d="M612.8,1233.2h32l-16,29z" fill="#ff10d8"/><path d="M693.5,1245.5h32l-16,29z" fill="#ff10d8"/><path d="M763.0,1258.5h32l-16,29z" fill="#ff10d8"/><path d="M795.9,1267.5h32l-16,29z" fill="#ff10d8"/><path d="M864.5,1255.5h32l-16,29z" fill="#ff10d8"/><path d="M933.0,1249.5h32l-16,29z" fill="#ff10d8"/><path d="M1000.2,1257.1h32l-16,29z" fill="#ff10d8"/><path d="M1092.7,1264.5h32l-16,29z" fill="#ff10d8"/><path d="M1184.0,1267.5h32l-16,29z" fill="#ff10d8"/><path d="M1286.2,1275.0h32l-16,29z" fill="#ff10d8"/><path d="M1391.8,1276.8h32l-16,29z" fill="#ff10d8"/><path d="M1474.0,1284.0h32l-16,29z" fill="#ff10d8"/><path d="M1588.7,1284.0h32l-16,29z" fill="#ff10d8"/><path d="M1655.0,1282.2h32l-16,29z" fill="#ff10d8"/><path d="M386.0,1110.0 C387.7,1113.0 390.5,1119.0 396.2,1128.0 C401.9,1137.0 411.8,1154.1 420.3,1164.1 C428.8,1174.1 438.1,1181.5 447.0,1188.2 C455.9,1194.9 464.9,1199.8 473.8,1204.3 C482.7,1208.8 491.7,1211.9 500.6,1215.0 C509.5,1218.1 517.4,1220.3 527.3,1223.0 C537.2,1225.7 551.4,1229.1 560.0,1231.0 C568.6,1232.9 559.7,1231.6 578.7,1234.6 C597.7,1237.6 647.1,1245.3 674.0,1248.9 C700.9,1252.5 715.8,1253.2 740.0,1256.0 C764.2,1258.8 786.2,1262.8 819.3,1265.6 C852.4,1268.4 898.9,1270.3 938.7,1273.0 C978.5,1275.7 1014.5,1279.7 1058.0,1282.0 C1101.5,1284.3 1136.9,1285.9 1200.0,1287.0 C1263.1,1288.1 1349.1,1288.4 1436.4,1288.5 C1523.7,1288.6 1676.1,1287.8 1724.0,1287.7" fill="none" stroke="#ff10d8" stroke-width="4.0" stroke-linejoin="round"/><path d="M340.0,1173.0 C342.2,1174.0 346.7,1175.7 353.4,1178.9 C360.1,1182.1 371.8,1188.2 380.0,1192.0 C388.2,1195.8 394.2,1198.9 402.9,1201.6 C411.6,1204.3 422.5,1206.2 432.3,1208.3 C442.1,1210.4 451.8,1212.5 461.8,1214.3 C471.9,1216.1 481.7,1217.2 492.6,1219.0 C503.5,1220.8 516.1,1223.0 527.3,1225.0 C538.5,1227.0 551.4,1229.4 560.0,1231.0 C568.6,1232.6 559.7,1231.6 578.7,1234.6 C597.7,1237.6 647.1,1245.3 674.0,1248.9 C700.9,1252.5 715.8,1253.2 740.0,1256.0 C764.2,1258.8 786.2,1262.8 819.3,1265.6 C852.4,1268.4 898.9,1270.3 938.7,1273.0 C978.5,1275.7 1014.5,1279.7 1058.0,1282.0 C1101.5,1284.3 1136.9,1285.9 1200.0,1287.0 C1263.1,1288.1 1349.1,1288.4 1436.4,1288.5 C1523.7,1288.6 1676.1,1287.8 1724.0,1287.7" fill="none" stroke="#ff10d8" stroke-width="8.5" stroke-dasharray="6 22" stroke-dashoffset="-11.5" stroke-linecap="round" stroke-linejoin="round"/><path d="M512.7,1293.7h32l-16,-29z" fill="#ff1010"/><path d="M538.0,1331.2h32l-16,-29z" fill="#ff1010"/><path d="M574.6,1327.8h32l-16,-29z" fill="#ff1010"/><path d="M598.5,1344.5h32l-16,-29z" fill="#ff1010"/><path d="M626.0,1346.9h32l-16,-29z" fill="#ff1010"/><path d="M655.7,1349.3h32l-16,-29z" fill="#ff1010"/><path d="M684.0,1379.5h32l-16,-29z" fill="#ff1010"/><path d="M717.0,1383.5h32l-16,-29z" fill="#ff1010"/><path d="M740.7,1393.5h32l-16,-29z" fill="#ff1010"/><path d="M779.5,1390.5h32l-16,-29z" fill="#ff1010"/><path d="M822.7,1380.1h32l-16,-29z" fill="#ff1010"/><path d="M876.4,1405.5h32l-16,-29z" fill="#ff1010"/><path d="M937.6,1408.5h32l-16,-29z" fill="#ff1010"/><path d="M952.5,1399.5h32l-16,-29z" fill="#ff1010"/><path d="M1024.0,1387.5h32l-16,-29z" fill="#ff1010"/><path d="M1085.0,1377.1h32l-16,-29z" fill="#ff1010"/><path d="M1139.0,1392.5h32l-16,-29z" fill="#ff1010"/><path d="M1248.6,1400.7h32l-16,-29z" fill="#ff1010"/><path d="M1336.3,1409.5h32l-16,-29z" fill="#ff1010"/><path d="M1425.8,1416.8h32l-16,-29z" fill="#ff1010"/><path d="M1524.3,1416.8h32l-16,-29z" fill="#ff1010"/><path d="M368.0,1110.0 C368.7,1113.0 367.9,1116.8 372.1,1128.0 C376.4,1139.2 385.5,1160.3 393.5,1177.5 C401.5,1194.7 411.4,1216.5 420.3,1231.0 C429.2,1245.5 438.1,1255.1 447.0,1264.5 C455.9,1273.9 464.9,1281.3 473.8,1287.3 C482.7,1293.3 491.2,1296.5 500.6,1300.6 C510.0,1304.7 518.4,1308.4 530.0,1312.0 C541.6,1315.6 555.0,1318.5 570.0,1322.0 C585.0,1325.5 598.3,1328.5 620.0,1333.0 C641.7,1337.5 666.8,1344.5 700.0,1349.2 C733.2,1353.9 779.5,1356.5 819.3,1361.0 C859.1,1365.5 898.9,1372.0 938.7,1376.0 C978.5,1380.0 1022.8,1382.7 1058.0,1385.0 C1093.2,1387.3 1086.9,1388.1 1150.0,1389.8 C1213.1,1391.5 1340.7,1394.1 1436.4,1395.0 C1532.1,1395.9 1676.1,1395.0 1724.0,1395.0" fill="none" stroke="#ff1010" stroke-width="4.0" stroke-linejoin="round"/><path d="M340.0,1278.0 C342.4,1278.7 348.0,1279.5 354.7,1281.9 C361.4,1284.3 371.0,1289.7 380.1,1292.6 C389.2,1295.5 400.2,1297.5 409.6,1299.3 C419.0,1301.1 427.2,1301.7 436.3,1303.3 C445.4,1304.9 449.7,1306.6 464.4,1308.7 C479.1,1310.8 507.1,1313.6 524.7,1316.0 C542.3,1318.4 554.1,1320.2 570.0,1323.0 C585.9,1325.8 598.3,1328.6 620.0,1333.0 C641.7,1337.4 666.8,1344.5 700.0,1349.2 C733.2,1353.9 779.5,1356.5 819.3,1361.0 C859.1,1365.5 898.9,1372.0 938.7,1376.0 C978.5,1380.0 1022.8,1382.7 1058.0,1385.0 C1093.2,1387.3 1086.9,1388.1 1150.0,1389.8 C1213.1,1391.5 1340.7,1394.1 1436.4,1395.0 C1532.1,1395.9 1676.1,1395.0 1724.0,1395.0" fill="none" stroke="#ff1010" stroke-width="8.5" stroke-dasharray="6 22" stroke-dashoffset="-12.2" stroke-linecap="round" stroke-linejoin="round"/><path d="M346.0,1110.0 C346.5,1113.0 346.3,1116.8 349.0,1128.0 C351.7,1139.2 357.8,1162.5 362.0,1177.5 C366.2,1192.5 370.2,1204.3 374.0,1217.7 C377.8,1231.1 381.3,1244.4 385.0,1257.8 C388.7,1271.2 392.7,1285.7 396.0,1298.0 C399.3,1310.3 401.8,1320.2 405.0,1331.4 C408.2,1342.6 411.5,1354.9 415.0,1364.9 C418.5,1374.9 422.5,1382.4 426.0,1391.6 C429.5,1400.8 431.2,1406.0 436.0,1420.0 C440.8,1434.0 447.5,1454.3 454.6,1475.5 C461.7,1496.7 470.8,1525.0 478.4,1547.0 C486.0,1569.0 494.2,1591.9 500.0,1607.7 C505.8,1623.5 508.5,1630.0 513.0,1642.0 C517.5,1654.0 522.4,1666.7 526.9,1680.0 C531.4,1693.3 535.2,1709.3 540.2,1721.8 C545.2,1734.3 551.4,1745.5 557.0,1755.2 C562.6,1764.9 568.0,1772.4 573.6,1780.2 C579.2,1788.0 584.8,1795.9 590.4,1802.0 C596.0,1808.1 601.4,1812.3 607.0,1817.0 C612.6,1821.7 616.8,1826.0 623.8,1830.4 C630.8,1834.9 639.1,1839.8 648.8,1843.7 C658.5,1847.6 670.3,1850.7 682.2,1853.7 C694.1,1856.8 707.0,1858.5 720.0,1862.0 C733.0,1865.5 741.3,1870.7 760.0,1875.0 C778.7,1879.3 808.2,1883.8 832.0,1887.7 C855.8,1891.6 883.2,1895.9 903.0,1898.5 C922.8,1901.1 923.2,1900.5 951.0,1903.5 C978.8,1906.5 1035.2,1913.3 1070.0,1916.4 C1104.8,1919.5 1132.3,1920.6 1160.0,1922.0 C1187.7,1923.4 1191.5,1924.1 1236.0,1925.0 C1280.5,1925.9 1345.7,1927.4 1427.0,1927.5 C1508.3,1927.6 1674.5,1925.8 1724.0,1925.5" fill="none" stroke="#8a10f0" stroke-width="4.0" stroke-linejoin="round"/><path d="M340.0,1803.0 C342.9,1803.6 349.3,1804.6 357.2,1806.4 C365.1,1808.2 376.9,1812.0 387.3,1814.0 C397.7,1816.0 409.1,1816.7 419.5,1818.3 C429.9,1819.9 439.5,1821.8 449.5,1823.6 C459.5,1825.4 469.2,1827.2 479.6,1829.0 C490.0,1830.8 498.4,1832.1 511.8,1834.4 C525.2,1836.7 545.0,1840.3 560.0,1843.0 C575.0,1845.7 585.3,1848.0 602.0,1850.5 C618.7,1853.0 640.3,1855.8 660.0,1858.0 C679.7,1860.2 703.3,1861.2 720.0,1864.0 C736.7,1866.8 741.3,1871.0 760.0,1875.0 C778.7,1879.0 808.2,1883.8 832.0,1887.7 C855.8,1891.6 883.2,1895.9 903.0,1898.5 C922.8,1901.1 923.2,1900.5 951.0,1903.5 C978.8,1906.5 1035.2,1913.3 1070.0,1916.4 C1104.8,1919.5 1132.3,1920.6 1160.0,1922.0 C1187.7,1923.4 1191.5,1924.1 1236.0,1925.0 C1280.5,1925.9 1345.7,1927.4 1427.0,1927.5 C1508.3,1927.6 1674.5,1925.8 1724.0,1925.5" fill="none" stroke="#8a10f0" stroke-width="8.5" stroke-dasharray="6 22" stroke-dashoffset="-14.5" stroke-linecap="round" stroke-linejoin="round"/><path d="M348.0,1110.0 C348.7,1113.0 348.9,1116.8 352.0,1128.0 C355.1,1139.2 362.1,1162.5 366.8,1177.5 C371.5,1192.5 376.1,1204.3 380.1,1217.7 C384.1,1231.1 387.3,1244.4 390.9,1257.8 C394.5,1271.2 398.3,1285.7 401.6,1298.0 C404.9,1310.3 407.8,1320.2 410.9,1331.4 C414.0,1342.6 416.9,1354.9 420.3,1364.9 C423.7,1374.9 427.7,1382.4 431.0,1391.6 C434.3,1400.8 436.2,1408.6 440.0,1420.0 C443.8,1431.4 449.2,1446.7 454.0,1460.0 C458.8,1473.3 463.8,1486.7 469.0,1500.0 C474.2,1513.3 479.8,1526.7 485.0,1540.0 C490.2,1553.3 495.0,1568.0 500.0,1580.0 C505.0,1592.0 509.7,1602.7 515.0,1612.0 C520.3,1621.3 526.5,1629.3 532.0,1636.0 C537.5,1642.7 541.3,1646.5 548.0,1652.0 C554.7,1657.5 563.3,1663.0 572.0,1669.0 C580.7,1675.0 589.2,1681.8 600.0,1688.0 C610.8,1694.2 627.0,1701.8 637.0,1706.0 C647.0,1710.2 653.0,1711.0 660.0,1713.0 C667.0,1715.0 660.9,1714.3 679.0,1718.1 C697.1,1721.9 738.7,1730.8 768.5,1736.0 C798.3,1741.2 827.8,1745.1 858.0,1749.4 C888.2,1753.7 926.3,1759.1 950.0,1762.0 C973.7,1764.9 960.2,1763.6 1000.0,1767.0 C1039.8,1770.4 1133.4,1779.0 1188.7,1782.3 C1244.0,1785.6 1242.7,1786.2 1331.9,1787.0 C1421.1,1787.8 1658.7,1787.0 1724.0,1787.0" fill="none" stroke="#00aef8" stroke-width="4.0" stroke-linejoin="round"/><path d="M340.0,1666.0 C342.9,1666.5 350.0,1667.8 357.2,1669.0 C364.4,1670.2 373.3,1671.7 383.0,1673.3 C392.7,1674.9 404.8,1677.1 415.2,1678.7 C425.6,1680.3 434.8,1681.2 445.2,1683.0 C455.6,1684.8 466.4,1687.4 477.5,1689.4 C488.6,1691.4 501.4,1692.8 511.8,1694.8 C522.2,1696.8 529.7,1699.4 539.7,1701.2 C549.7,1703.0 561.2,1703.9 572.0,1705.5 C582.8,1707.1 593.4,1709.6 604.2,1711.0 C615.0,1712.4 627.7,1713.5 637.0,1714.0 C646.3,1714.5 653.0,1713.3 660.0,1714.0 C667.0,1714.7 660.9,1714.4 679.0,1718.1 C697.1,1721.8 738.7,1730.8 768.5,1736.0 C798.3,1741.2 827.8,1745.1 858.0,1749.4 C888.2,1753.7 926.3,1759.1 950.0,1762.0 C973.7,1764.9 960.2,1763.6 1000.0,1767.0 C1039.8,1770.4 1133.4,1779.0 1188.7,1782.3 C1244.0,1785.6 1242.7,1786.2 1331.9,1787.0 C1421.1,1787.8 1658.7,1787.0 1724.0,1787.0" fill="none" stroke="#00aef8" stroke-width="8.5" stroke-dasharray="6 22" stroke-dashoffset="-14.5" stroke-linecap="round" stroke-linejoin="round"/><path d="M356.0,1110.0 C356.9,1113.0 357.4,1116.8 361.4,1128.0 C365.4,1139.2 374.8,1162.5 380.1,1177.5 C385.5,1192.5 389.0,1204.3 393.5,1217.7 C398.0,1231.1 402.4,1245.5 406.9,1257.8 C411.4,1270.1 415.8,1281.3 420.3,1291.3 C424.8,1301.3 429.2,1309.1 433.7,1318.0 C438.1,1326.9 442.6,1336.8 447.0,1344.8 C451.4,1352.8 455.9,1360.0 460.4,1366.0 C464.9,1372.0 469.3,1376.0 473.8,1381.0 C478.3,1386.0 482.6,1391.5 487.5,1396.0 C492.4,1400.5 497.9,1403.8 503.0,1408.0 C508.1,1412.2 511.7,1416.4 518.0,1421.0 C524.3,1425.6 534.1,1431.6 541.0,1435.5 C547.9,1439.4 553.4,1441.9 559.5,1444.5 C565.6,1447.1 569.0,1448.4 577.4,1451.3 C585.8,1454.2 597.9,1458.0 610.0,1462.0 C622.1,1466.0 635.0,1470.9 650.0,1475.0 C665.0,1479.1 671.8,1482.0 700.0,1486.4 C728.2,1490.8 779.5,1496.3 819.3,1501.3 C859.1,1506.3 898.9,1512.2 938.7,1516.2 C978.5,1520.2 1022.8,1522.4 1058.0,1525.2 C1093.2,1528.0 1086.9,1531.1 1150.0,1533.0 C1213.1,1534.9 1340.7,1536.3 1436.4,1536.6 C1532.1,1536.9 1676.1,1535.3 1724.0,1535.0" fill="none" stroke="#00f010" stroke-width="4.0" stroke-linejoin="round"/><path d="M340.0,1415.0 C342.4,1415.5 347.1,1416.5 354.3,1418.2 C361.5,1419.9 373.4,1423.1 383.0,1425.3 C392.6,1427.5 402.9,1429.5 411.6,1431.3 C420.4,1433.1 425.9,1434.2 435.5,1436.0 C445.1,1437.8 458.6,1440.6 468.9,1442.0 C479.2,1443.4 487.1,1443.0 497.5,1444.4 C507.9,1445.8 520.2,1448.6 531.0,1450.4 C541.8,1452.2 548.8,1452.6 562.0,1455.2 C575.2,1457.8 595.3,1462.7 610.0,1466.0 C624.7,1469.3 635.0,1471.6 650.0,1475.0 C665.0,1478.4 671.8,1482.0 700.0,1486.4 C728.2,1490.8 779.5,1496.3 819.3,1501.3 C859.1,1506.3 898.9,1512.2 938.7,1516.2 C978.5,1520.2 1022.8,1522.4 1058.0,1525.2 C1093.2,1528.0 1086.9,1531.1 1150.0,1533.0 C1213.1,1534.9 1340.7,1536.3 1436.4,1536.6 C1532.1,1536.9 1676.1,1535.3 1724.0,1535.0" fill="none" stroke="#00f010" stroke-width="8.5" stroke-dasharray="6 22" stroke-dashoffset="-11.7" stroke-linecap="round" stroke-linejoin="round"/></g><rect x="340" y="86.3" width="1386" height="1038.2" fill="none" stroke="#606060" stroke-width="5"/><rect x="340" y="1124.5" width="1386" height="1040.5" fill="none" stroke="#606060" stroke-width="4.5"/><path d="M340,1035.5h31M340,973.6h31M340,929.6h31M340,895.5h31M340,867.6h31M340,844.0h31M340,823.6h31M340,805.6h31M340,789.5h60M340,683.5h31M340,621.6h31M340,577.6h31M340,543.5h31M340,515.6h31M340,492.0h31M340,471.6h31M340,453.6h31M340,437.5h60M340,331.5h31M340,269.6h31M340,225.6h31M340,191.5h31M340,163.6h31M340,140.0h31M340,119.6h31M340,101.6h31M340,85.5h60M340,2061.1h31M340,1999.9h31M340,1956.6h31M340,1922.9h31M340,1895.4h31M340,1872.2h31M340,1852.0h31M340,1834.3h31M340,1818.4h60M340,1713.9h31M340,1652.7h31M340,1609.4h31M340,1575.7h31M340,1548.2h31M340,1525.0h31M340,1504.8h31M340,1487.1h31M340,1471.2h60M340,1366.7h31M340,1305.5h31M340,1262.2h31M340,1228.5h31M340,1201.0h31M340,1177.8h31M340,1157.6h31M340,1139.9h31M340,1124.0h60M513.0,1124.5v-29M686.3,1124.5v-57M859.6,1124.5v-29M1032.9,1124.5v-57M1206.2,1124.5v-29M1379.5,1124.5v-57M1552.8,1124.5v-29M513.0,2165v-29M686.3,2165v-57M859.6,2165v-29M1032.9,2165v-57M1206.2,2165v-29M1379.5,2165v-57M1552.8,2165v-29" stroke="#606060" stroke-width="4.5" fill="none"/><text x="305" y="113.0" font-family="Liberation Serif, Times New Roman, serif" font-size="82" text-anchor="end" fill="#222" stroke="#222" stroke-width="1.3">100</text><text x="305" y="465.0" font-family="Liberation Serif, Times New Roman, serif" font-size="82" text-anchor="end" fill="#222" stroke="#222" stroke-width="1.3">10</text><text x="305" y="817.0" font-family="Liberation Serif, Times New Roman, serif" font-size="82" text-anchor="end" fill="#222" stroke="#222" stroke-width="1.3">1</text><text x="305" y="1151.5" font-family="Liberation Serif, Times New Roman, serif" font-size="82" text-anchor="end" fill="#222" stroke="#222" stroke-width="1.3">100</text><text x="305" y="1498.7" font-family="Liberation Serif, Times New Roman, serif" font-size="82" text-anchor="end" fill="#222" stroke="#222" stroke-width="1.3">10</text><text x="305" y="1845.9" font-family="Liberation Serif, Times New Roman, serif" font-size="82" text-anchor="end" fill="#222" stroke="#222" stroke-width="1.3">1</text><text x="305" y="2193.1" font-family="Liberation Serif, Times New Roman, serif" font-size="82" text-anchor="end" fill="#222" stroke="#222" stroke-width="1.3">0.1</text><text x="332" y="243.6" font-family="Liberation Serif, Times New Roman, serif" font-size="56" text-anchor="end" fill="#2a2a2a">4</text><text x="332" y="349.5" font-family="Liberation Serif, Times New Roman, serif" font-size="56" text-anchor="end" fill="#2a2a2a">2</text><text x="332" y="595.6" font-family="Liberation Serif, Times New Roman, serif" font-size="56" text-anchor="end" fill="#2a2a2a">4</text><text x="332" y="701.5" font-family="Liberation Serif, Times New Roman, serif" font-size="56" text-anchor="end" fill="#2a2a2a">2</text><text x="332" y="947.6" font-family="Liberation Serif, Times New Roman, serif" font-size="56" text-anchor="end" fill="#2a2a2a">4</text><text x="332" y="1053.5" font-family="Liberation Serif, Times New Roman, serif" font-size="56" text-anchor="end" fill="#2a2a2a">2</text><text x="332" y="1280.2" font-family="Liberation Serif, Times New Roman, serif" font-size="56" text-anchor="end" fill="#2a2a2a">4</text><text x="332" y="1384.7" font-family="Liberation Serif, Times New Roman, serif" font-size="56" text-anchor="end" fill="#2a2a2a">2</text><text x="332" y="1627.4" font-family="Liberation Serif, Times New Roman, serif" font-size="56" text-anchor="end" fill="#2a2a2a">4</text><text x="332" y="1731.9" font-family="Liberation Serif, Times New Roman, serif" font-size="56" text-anchor="end" fill="#2a2a2a">2</text><text x="332" y="1974.6" font-family="Liberation Serif, Times New Roman, serif" font-size="56" text-anchor="end" fill="#2a2a2a">4</text><text x="332" y="2079.1" font-family="Liberation Serif, Times New Roman, serif" font-size="56" text-anchor="end" fill="#2a2a2a">2</text><text x="339.7" y="2273" font-family="Liberation Serif, Times New Roman, serif" font-size="82" text-anchor="middle" fill="#222" stroke="#222" stroke-width="1.3">0</text><text x="686.3" y="2273" font-family="Liberation Serif, Times New Roman, serif" font-size="82" text-anchor="middle" fill="#222" stroke="#222" stroke-width="1.3">10</text><text x="1032.9" y="2273" font-family="Liberation Serif, Times New Roman, serif" font-size="82" text-anchor="middle" fill="#222" stroke="#222" stroke-width="1.3">20</text><text x="1379.5" y="2273" font-family="Liberation Serif, Times New Roman, serif" font-size="82" text-anchor="middle" fill="#222" stroke="#222" stroke-width="1.3">30</text><text x="1726.1" y="2273" font-family="Liberation Serif, Times New Roman, serif" font-size="82" text-anchor="middle" fill="#222" stroke="#222" stroke-width="1.3">40</text><text x="1035" y="2387" font-family="Liberation Serif, Times New Roman, serif" font-size="82" text-anchor="middle" fill="#222" stroke="#222" stroke-width="1.3">Oxide thickness [nm]</text><text transform="translate(121,1018) rotate(-90)" x="0" y="0" font-family="Liberation Serif, Times New Roman, serif" font-size="82.5" text-anchor="middle" fill="#222" stroke="#222" stroke-width="1.3">Growth rate [nm/h]</text><text x="393" y="1057" font-family="Liberation Serif, Times New Roman, serif" font-size="82" fill="#222" stroke="#222" stroke-width="1.3">(a)</text><text x="393" y="2089" font-family="Liberation Serif, Times New Roman, serif" font-size="82" fill="#222" stroke="#222" stroke-width="1.3">(b)</text><text x="1550" y="515" font-family="Liberation Serif, Times New Roman, serif" font-size="82" text-anchor="end" fill="#ff10d8" stroke="#ff10d8" stroke-width="1.4">1.0 atm</text><rect x="1474" y="521.5" width="245" height="66" fill="#fff"/><text x="1719" y="577.5" font-family="Liberation Serif, Times New Roman, serif" font-size="82" text-anchor="end" fill="#ff1010" stroke="#ff1010" stroke-width="1.4">0.5 atm</text><text x="1718" y="660.5" font-family="Liberation Serif, Times New Roman, serif" font-size="82" text-anchor="end" fill="#00f010" stroke="#00f010" stroke-width="1.4">0.2 atm</text><text x="1721" y="735" font-family="Liberation Serif, Times New Roman, serif" font-size="82" text-anchor="end" fill="#ffa604" stroke="#ffa604" stroke-width="1.4">0.1 atm</text><text x="1722" y="818" font-family="Liberation Serif, Times New Roman, serif" font-size="82" text-anchor="end" fill="#00aef8" stroke="#00aef8" stroke-width="1.4">0.05 atm</text><text x="1715" y="975.6" font-family="Liberation Serif, Times New Roman, serif" font-size="82" text-anchor="end" fill="#8a10f0" stroke="#8a10f0" stroke-width="1.4">0.02 atm</text><text x="1710" y="1273.4" font-family="Liberation Serif, Times New Roman, serif" font-size="82" text-anchor="end" fill="#ff10d8" stroke="#ff10d8" stroke-width="1.4">1.0 atm</text><text x="1711" y="1377.2" font-family="Liberation Serif, Times New Roman, serif" font-size="82" text-anchor="end" fill="#ff1010" stroke="#ff1010" stroke-width="1.4">0.5 atm</text><text x="1720" y="1518.7" font-family="Liberation Serif, Times New Roman, serif" font-size="82" text-anchor="end" fill="#00f010" stroke="#00f010" stroke-width="1.4">0.2 atm</text><text x="1712" y="1768" font-family="Liberation Serif, Times New Roman, serif" font-size="82" text-anchor="end" fill="#00aef8" stroke="#00aef8" stroke-width="1.4">0.05 atm</text><text x="1712" y="1908.8" font-family="Liberation Serif, Times New Roman, serif" font-size="82" text-anchor="end" fill="#8a10f0" stroke="#8a10f0" stroke-width="1.4">0.02 atm</text></svg></body></html>
